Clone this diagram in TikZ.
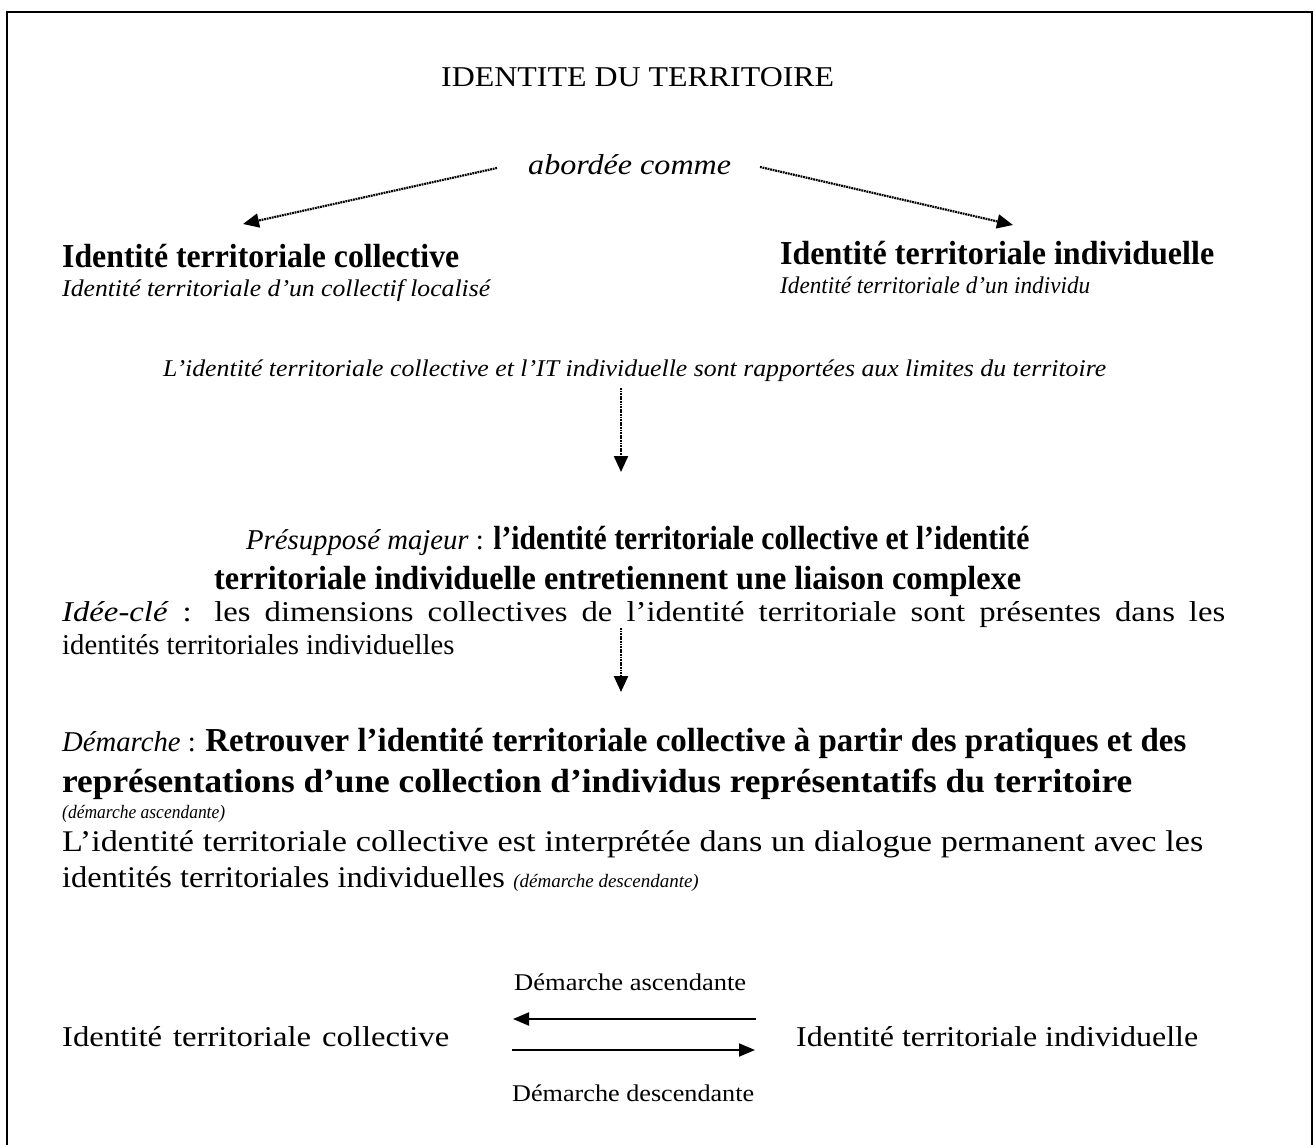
\documentclass[tikz,border=0pt]{standalone}
\usepackage{fontspec}
\usepackage{graphicx}
\setmainfont{Liberation Serif}
\usetikzlibrary{arrows.meta}
\newlength\fitnat
\newcommand\fitline[2]{%
  \settowidth\fitnat{#2}%
  \pgfmathsetmacro\fitsc{min(#1/\fitnat,1.14)}%
  \pgfmathsetmacro\fitw{#1/\fitsc}%
  \scalebox{\fitsc}[1]{\makebox[\fitw pt][s]{#2}}}
\tikzset{
  txt/.style={inner sep=0pt, anchor=base west},
  main/.style={font=\fontsize{28.7}{33}\selectfont},
  mainit/.style={font=\fontsize{28.7}{33}\selectfont\itshape},
  mid/.style={font=\fontsize{30}{36}\selectfont},
  big/.style={font=\fontsize{33.5}{38}\selectfont\bfseries},
  small/.style={font=\fontsize{24}{28}\selectfont\itshape},
  lab/.style={font=\fontsize{24}{28}\selectfont},
  tiny/.style={font=\fontsize{19}{22}\selectfont\itshape},
  dotarrow/.style={line width=2.2pt, dash pattern=on 1.8pt off 0.8pt, -{Triangle[length=16pt,width=14pt]}},
  solidarrow/.style={line width=2pt, -{Triangle[length=16pt,width=13pt]}},
}
\begin{document}
\begin{tikzpicture}[x=1pt,y=-1pt]
\useasboundingbox (0,0) rectangle (1314,1144);
\draw[line width=2.2pt] (7,12) -- (1312,12) -- (1312,1160) -- (7,1160) -- cycle;

\node[txt,main] (title) at (441,86) {\fitline{393}{IDENTITE DU TERRITOIRE}};
\node[txt,mainit] (abordee) at (528,174) {\fitline{203}{abordée comme}};

\node[txt,big] (tcol) at (62,267) {\fitline{397}{Identité territoriale collective}};
\node[txt,small] (scol) at (62,296) {\fitline{428}{Identité territoriale d’un collectif localisé}};
\node[txt,big] (tind) at (780,264) {\fitline{434}{Identité territoriale individuelle}};
\node[txt,small] (sind) at (780,293) {\fitline{310}{Identité territoriale d’un individu}};

\coordinate (a1s) at (497,168); \coordinate (a1e) at (243,224);
\coordinate (a2s) at (760,167); \coordinate (a2e) at (1013,225);
\draw[dotarrow] (a1s) -- (a1e);
\draw[dotarrow] (a2s) -- (a2e);

\node[txt,small] (rapp) at (163,376) {\fitline{943}{L’identité territoriale collective et l’IT individuelle sont rapportées aux limites du territoire}};

\node[txt,main] (presupA) at (246,549) {\textit{Présupposé majeur} : {\fontsize{33.5}{38}\selectfont\bfseries\fitline{536}{l’identité territoriale collective et l’identité}}};
\node[txt,big] (presupB) at (214,589) {\fitline{807}{territoriale individuelle entretiennent une liaison complexe}};
\coordinate (v1s) at (621,388); \coordinate (v1e) at (621,472);
\draw[dotarrow] (v1s) -- (v1e);

\node[txt,main] (ideeA) at (62,621) {\fitline{1163}{\textit{Idée-clé} : les dimensions collectives de l’identité territoriale sont présentes dans les}};
\node[txt,main] (ideeB) at (62,654) {identités territoriales individuelles};

\node[txt,main] (demA) at (62,751) {\textit{Démarche} : {\fontsize{33.5}{38}\selectfont\bfseries\fitline{981}{Retrouver l’identité territoriale collective à partir des pratiques et des}}};
\node[txt,big] (demB) at (62,792) {\fitline{1070}{représentations d’une collection d’individus représentatifs du territoire}};
\coordinate (v2s) at (621,628); \coordinate (v2e) at (621,692);
\draw[dotarrow] (v2s) -- (v2e);

\node[txt,tiny] (asc) at (62,818) {\fitline{163}{(démarche ascendante)}};
\node[txt,mid] (interpA) at (62,851) {\fitline{1141}{L’identité territoriale collective est interprétée dans un dialogue permanent avec les}};
\node[txt,mid] (interpB) at (62,887) {\scalebox{1.08}[1]{identités territoriales individuelles}};
\node[txt,tiny] (desc) at ([xshift=8pt]interpB.base east) {(démarche descendante)};

\node[txt,lab] (lasc) at (514,990) {\fitline{232}{Démarche ascendante}};
\node[txt,lab] (ldesc) at (512,1101) {\fitline{242}{Démarche descendante}};
\node[txt,main] (bcol) at (62,1046) {\fitline{387}{Identité territoriale collective}};
\node[txt,main] (bind) at (796,1046) {\fitline{402}{Identité territoriale individuelle}};
\coordinate (b1s) at (756,1019); \coordinate (b1e) at (513,1019);
\coordinate (b2s) at (512,1050); \coordinate (b2e) at (755,1050);
\draw[solidarrow] (b1s) -- (b1e);
\draw[solidarrow] (b2s) -- (b2e);
\end{tikzpicture}
\end{document}
